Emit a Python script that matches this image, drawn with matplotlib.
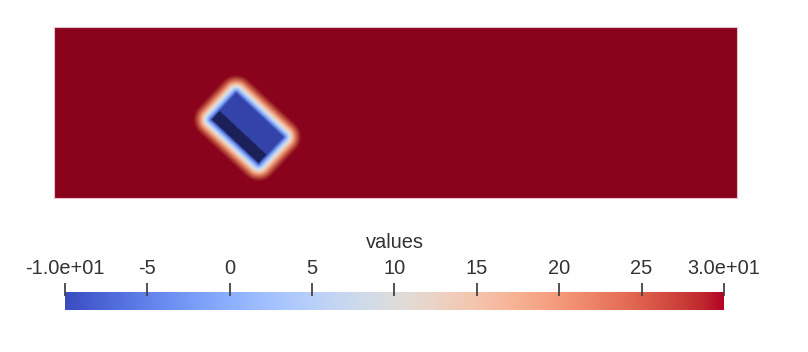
import numpy as np
import matplotlib.pyplot as plt
from matplotlib.colors import ListedColormap

plt.rcParams['font.family'] = ['Liberation Sans', 'DejaVu Sans']

# Domaine et obstacle (unites du domaine)
DOMAINE_X = [0.0, 4.0]
DOMAINE_Y = [0.0, 1.0]
CENTRE = [1.132, 0.408]
LONGUEUR = 0.375
LARGEUR = 0.21
ANGLE = -43.0      # degres
BANDE = 0.068      # bande sombre le long du bord bas-gauche
HALO = 0.11        # largeur de la transition autour de l'obstacle

V_MIN = -10.0
V_MAX = 30.0
V_BANDE = -20.0

TICKS = [-10, -5, 0, 5, 10, 15, 20, 25, 30]
TICK_LABELS = ["-1.0e+01", "-5", "0", "5", "10", "15", "20", "25", "3.0e+01"]
TITRE = "values"

# --- champ ---
nx, ny = 1366, 342
xs = np.linspace(DOMAINE_X[0], DOMAINE_X[1], nx)
ys = np.linspace(DOMAINE_Y[0], DOMAINE_Y[1], ny)
X, Y = np.meshgrid(xs, ys)
t = np.radians(ANGLE)
u = (X - CENTRE[0]) * np.cos(t) + (Y - CENTRE[1]) * np.sin(t)
v = -(X - CENTRE[0]) * np.sin(t) + (Y - CENTRE[1]) * np.cos(t)
du = np.maximum(np.abs(u) - LONGUEUR / 2, 0)
dv = np.maximum(np.abs(v) - LARGEUR / 2, 0)
d = np.hypot(du, dv)
s = np.clip(d / HALO, 0, 1)
s = 1 - (1 - s) ** 1.5
champ = V_MIN + (V_MAX - V_MIN) * s
champ[(d == 0) & (v < -LARGEUR / 2 + BANDE)] = V_BANDE

# palette du rendu (un peu assombrie aux extremites)
base = plt.get_cmap("coolwarm")
tt = np.linspace(0, 1, 256)
cols = base(tt)
fact = 1 - 0.12 * np.clip((0.5 - tt) / 0.5, 0, 1) ** 2 - 0.23 * np.clip((tt - 0.5) / 0.5, 0, 1) ** 2
cols[:, :3] *= fact[:, None]
cmap_rendu = ListedColormap(cols)
cmap_rendu.set_under("#1c2158")

fig = plt.figure(figsize=(8.08, 3.52), dpi=100)
W, H = 808, 352

ax = fig.add_axes([54 / W, 1 - 198 / H, 683 / W, 171 / H])
ax.imshow(champ, origin="lower", extent=DOMAINE_X + DOMAINE_Y, cmap=cmap_rendu,
          vmin=V_MIN, vmax=V_MAX, aspect="auto", interpolation="bilinear")
ax.set_xticks([])
ax.set_yticks([])
for sp in ax.spines.values():
    sp.set_color("#e6c2ca")
    sp.set_linewidth(0.8)

# --- barre de couleurs ---
cax = fig.add_axes([65 / W, 1 - 310 / H, 659 / W, 18 / H])
grad = np.linspace(V_MIN, V_MAX, 512).reshape(1, -1)
cax.imshow(grad, extent=[V_MIN, V_MAX, 0, 1], cmap="coolwarm", vmin=V_MIN, vmax=V_MAX,
           aspect="auto")
cax.set_xlim(V_MIN, V_MAX)
cax.set_ylim(0, 1)
cax.set_yticks([])
for sp in cax.spines.values():
    sp.set_visible(False)
cax.xaxis.tick_top()
cax.set_xticks(TICKS)
cax.set_xticklabels(TICK_LABELS)
cax.tick_params(axis="x", length=0, pad=10, labelsize=14.4, labelcolor="#333333")
cax.vlines(TICKS, (310 - 296) / 18, (310 - 283) / 18, color="#444444", lw=1.3,
           transform=cax.get_xaxis_transform(), clip_on=False)
fig.text(395 / W, 1 - 243 / H, TITRE, ha="center", va="center", fontsize=14.4,
         color="#333333")

fig.savefig("out.png", dpi=100)
